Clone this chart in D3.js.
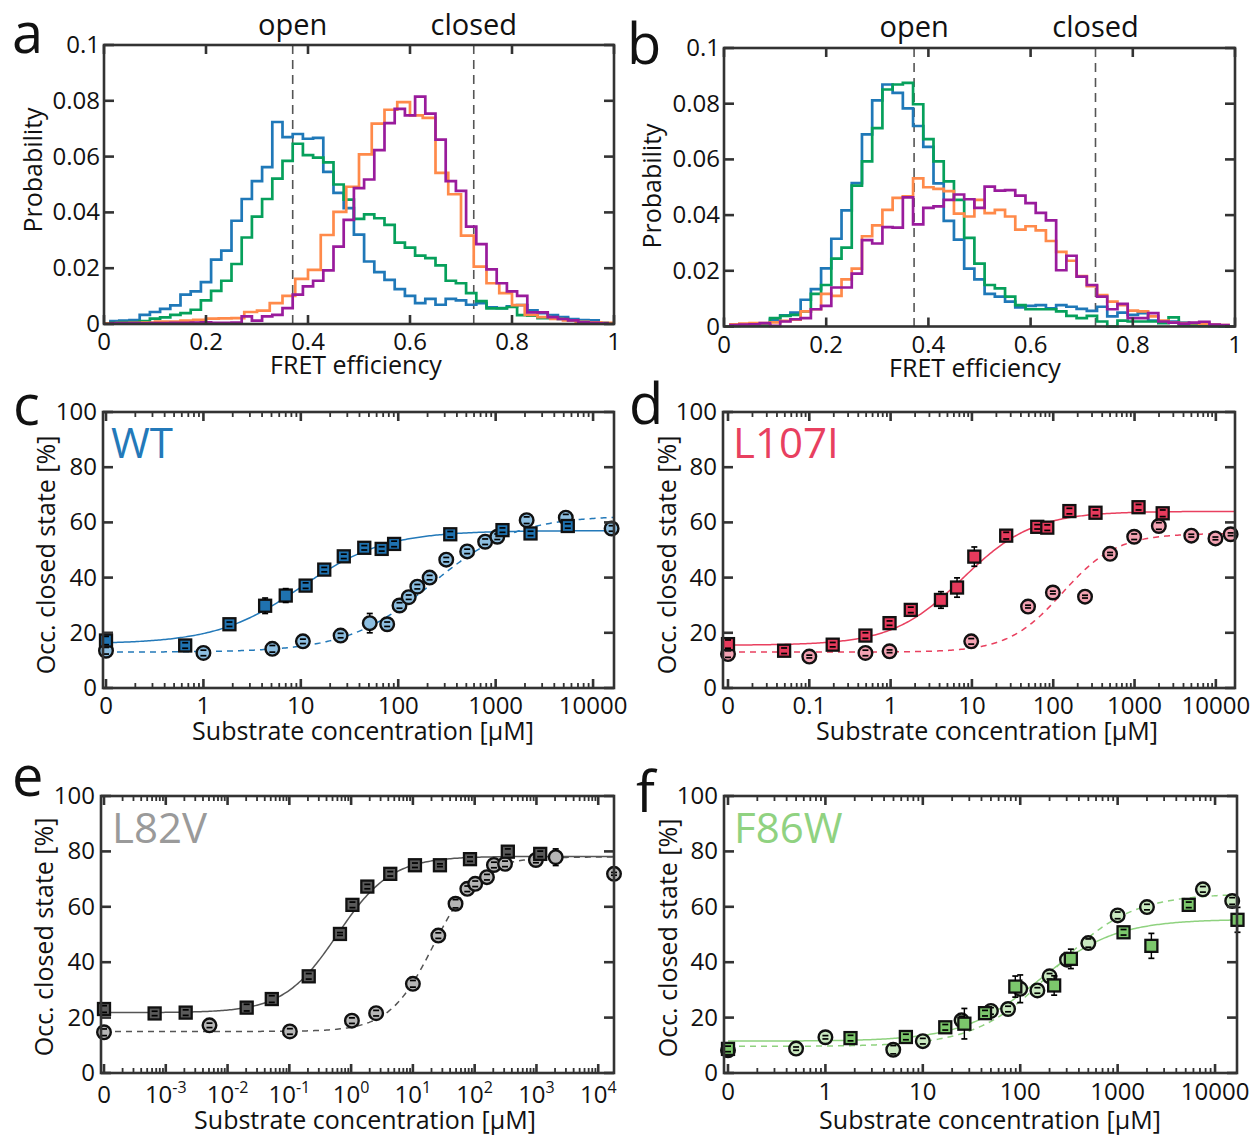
<!DOCTYPE html>
<html>
<head>
<meta charset="utf-8">
<script src="https://cdn.jsdelivr.net/npm/d3@7"></script>
<style>
  body { margin: 0; background: #fff; }
  svg { display: block; }
  text { font-family: "Open Sans", "Noto Sans", sans-serif; }
</style>
</head>
<body>
<svg></svg>
<script>
const width = 1260;
const height = 1136;

// ---- panel a / b : FRET histograms (0.02 wide bins, centres 0.02 ... 0.98) ----
const aBlue = [0.001,0.0012,0.0014,0.0033,0.0043,0.0054,0.0067,0.0105,0.0117,0.015,0.0231,0.0263,0.037,0.0448,0.0512,0.0562,0.0724,0.067,0.0681,0.0664,0.0667,0.0545,0.047,0.0415,0.032,0.0224,0.0186,0.0158,0.0125,0.0101,0.0075,0.009,0.0069,0.009,0.0085,0.0069,0.0075,0.006,0.0057,0.0063,0.0068,0.0049,0.0039,0.0032,0.0025,0.0018,0.0014,0.0013,0.0004];
const aGreen = [0.0005,0.0007,0.0007,0.001,0.0019,0.0024,0.0033,0.0039,0.0051,0.0085,0.0119,0.0155,0.0215,0.031,0.0385,0.0448,0.0521,0.0585,0.0646,0.0605,0.0596,0.0579,0.05,0.0446,0.0377,0.0393,0.0379,0.0355,0.0292,0.0274,0.0245,0.0236,0.021,0.0155,0.0146,0.0111,0.0082,0.0056,0.0056,0.0061,0.0032,0.003,0.0021,0.0021,0.0018,0.0013,0.0006,0.0006,0.0001];
// orange in panel a uses 0.025 wide bins (0 ... 1)
const aOrange = [0.0002,0.0003,0.0004,0.0005,0.0009,0.0009,0.0012,0.0015,0.0019,0.002,0.0021,0.0043,0.0048,0.0075,0.0101,0.0162,0.0194,0.0319,0.0402,0.0492,0.0608,0.0718,0.0768,0.0795,0.0748,0.0739,0.0542,0.0465,0.0317,0.0206,0.0146,0.0111,0.0068,0.0033,0.0025,0.0018,0.0013,0.0008,0.0006,0.0004];
const aPurple = [0.0003,0.0003,0.0003,0.0002,0.0003,0.0003,0.0004,0.0004,0.0005,0.0006,0.0004,0.0004,0.0005,0.0027,0.0012,0.0027,0.0033,0.0057,0.0105,0.0135,0.0155,0.0192,0.0277,0.0373,0.0487,0.0518,0.0623,0.072,0.0771,0.0748,0.0815,0.0754,0.0661,0.0512,0.0477,0.0349,0.0286,0.0196,0.0146,0.0117,0.0101,0.0042,0.0042,0.0025,0.0018,0.0013,0.0006,0.0004,0.0002];

const bBlue = [0.0003,0.0004,0.0006,0.001,0.0025,0.004,0.005,0.0096,0.0134,0.0209,0.0315,0.0417,0.0515,0.069,0.0812,0.0869,0.0839,0.0783,0.072,0.0645,0.0514,0.0379,0.0312,0.0208,0.0169,0.0117,0.0107,0.0089,0.0069,0.0074,0.0077,0.0065,0.0077,0.0071,0.0063,0.0056,0.0071,0.0036,0.005,0.0042,0.0048,0.0021,0.0014,0.0018,0.0014,0.001,0.0007,0.0005,0.0002];
const bGreen = [0.0002,0.0003,0.0005,0.0007,0.003,0.0038,0.0042,0.0054,0.0117,0.0149,0.0244,0.0283,0.0506,0.0593,0.0712,0.0851,0.0869,0.0875,0.0798,0.0673,0.0593,0.0521,0.0455,0.0318,0.0226,0.0149,0.0137,0.0107,0.0077,0.0062,0.0062,0.0062,0.0054,0.0038,0.003,0.0038,0.0018,0,0.0021,0.0018,0.0018,0.0018,0.0012,0.0033,0.0006,0.0005,0.0002,0.0001,0];
const bOrange = [0.0008,0.001,0.0012,0.0012,0.0015,0.002,0.0025,0.0054,0.0062,0.0117,0.011,0.0169,0.0208,0.0324,0.0363,0.0419,0.0462,0.0467,0.0532,0.05,0.0494,0.0486,0.0405,0.0395,0.0455,0.0407,0.0419,0.0395,0.0348,0.036,0.0345,0.0307,0.0268,0.0236,0.0181,0.0145,0.0113,0.0089,0.0077,0.0057,0.0054,0.0036,0.0021,0.0014,0.0012,0.0012,0.001,0.0007,0.0005];
const bPurple = [0.0005,0.0007,0.0008,0.0012,0.0002,0.0018,0.0026,0.003,0.0062,0.0074,0.014,0.014,0.019,0.031,0.0298,0.0357,0.0355,0.0464,0.0367,0.0426,0.0431,0.0455,0.0474,0.0457,0.0426,0.0502,0.0488,0.049,0.047,0.0443,0.0408,0.0381,0.0202,0.0254,0.0179,0.0149,0.0107,0.0062,0.0081,0.003,0.003,0.0048,0.0018,0.0014,0.001,0.0014,0.0017,0.0007,0.0005];

const fretTicks = [0, 0.2, 0.4, 0.6, 0.8, 1];
const fretTickLabels = ["0", "0.2", "0.4", "0.6", "0.8", "1"];
const probTicks = [0, 0.02, 0.04, 0.06, 0.08, 0.1];
const probTickLabels = ["0", "0.02", "0.04", "0.06", "0.08", "0.1"];
const stateLinesA = [0.37, 0.725];
const stateLinesB = [0.372, 0.727];
const stateNames = ["open", "closed"];

// ---- panels c-f : titration, concentration in µM (0 = no substrate) ----
const cSqX = [0, 0.65, 1.85, 4.3, 7.0, 11.2, 17.4, 27.6, 44.8, 67.6, 90.7, 342, 1175, 2280, 5500];
const cSqY = [17.2, 15.4, 23.1, 29.8, 33.5, 37.1, 42.9, 47.7, 50.8, 50.4, 52.2, 55.7, 57.2, 56.0, 58.7];
const cSqErr = [1.5, 1, 0.8, 2.8, 2.5, 1, 0.8, 0.8, 0.8, 0.8, 1, 1, 0.8, 0.8, 0.8];
const cCiX = [0, 1, 5.1, 10.5, 25.6, 51, 77, 103, 128, 157, 210, 311, 510, 780, 1040, 2080, 5250, 15500];
const cCiY = [13.5, 12.7, 14.2, 16.9, 19.0, 23.5, 23.1, 29.9, 32.9, 36.7, 40.0, 46.5, 49.5, 53.0, 54.8, 60.8, 61.7, 57.8];
const cCiErr = [1.2, 1, 1.2, 0.8, 0.8, 3.5, 0.8, 1, 0.8, 0.8, 0.8, 0.8, 0.8, 1, 1, 1.2, 1.2, 1];
const cFitSq = [16, 57, 10, 1];      // bottom, top, EC50, Hill
const cFitCi = [13, 62.5, 220, 1];

const dSqX = [0, 0.049, 0.194, 0.49, 0.97, 1.77, 4.16, 6.56, 10.7, 26.4, 63.6, 84.5, 158, 331, 1120, 2220];
const dSqY = [15.9, 13.5, 15.7, 19.0, 23.5, 28.3, 31.9, 36.4, 47.6, 55.2, 58.4, 58.1, 64.1, 63.5, 65.5, 63.3];
const dSqErr = [1.5, 1, 0.8, 1, 0.8, 1, 3, 3.5, 3.5, 1.2, 0.8, 1, 1, 1, 1, 1.2];
const dCiX = [0, 0.1, 0.49, 0.97, 9.8, 49, 99, 246, 500, 990, 1990, 4990, 9880, 15200];
const dCiY = [12.3, 11.4, 12.7, 13.3, 16.9, 29.5, 34.6, 33.1, 48.6, 54.8, 58.7, 55.2, 54.2, 55.7];
const dCiErr = [1.2, 0.5, 1, 0.5, 1, 0.5, 0.5, 0.5, 0.5, 1, 1.2, 0.5, 0.5, 0.5];
const dFitSq = [15.5, 64, 7.7, 1];
const dFitCi = [13, 56, 130, 1.3];

const eSqX = [0, 0.00066, 0.0021, 0.0204, 0.052, 0.206, 0.66, 1.05, 1.83, 4.3, 10.8, 27.4, 84, 344, 1150];
const eSqY = [23.1, 21.5, 21.8, 23.6, 26.7, 34.9, 50.2, 60.7, 67.3, 71.9, 75.0, 75.0, 77.2, 79.9, 79.1];
const eSqErr = [1.2, 0.8, 1, 1.2, 1.2, 1, 0.5, 1, 0.8, 0.8, 0.8, 0.5, 0.8, 1, 1];
const eCiX = [0, 0.0051, 0.102, 1.03, 2.54, 10, 25.8, 49, 76, 102, 158, 205, 310, 980, 2050, 18000];
const eCiY = [14.7, 17.2, 15.0, 18.9, 21.6, 32.2, 49.6, 61.1, 66.5, 68.3, 70.7, 75.1, 75.5, 76.9, 77.9, 71.9];
const eCiErr = [1.2, 0.8, 1, 1, 1, 1.2, 1, 1.5, 1, 1, 1, 1, 1, 1, 3, 0.5];
const eFitSq = [21.8, 78.2, 0.6, 1];
const eFitCi = [15, 78, 22, 1.2];

const fSqX = [0, 1.81, 6.7, 17, 26.7, 43.5, 89, 223, 331, 1150, 2220, 5370, 17000];
const fSqY = [8.7, 12.6, 13.0, 16.5, 17.8, 21.6, 31.2, 31.6, 41.2, 50.8, 45.9, 60.7, 55.3];
const fSqErr = [1, 1, 1, 1, 5.5, 1, 3.8, 3.5, 3.5, 1, 4.5, 1, 4.5];
const fCiX = [0, 0.5, 1.0, 4.97, 10, 25, 50, 75, 100, 150, 200, 302, 500, 1000, 2000, 7500, 15000];
const fCiY = [8.2, 8.8, 12.9, 8.4, 11.5, 19.0, 22.4, 23.1, 30.4, 29.8, 34.9, 40.9, 46.9, 56.9, 59.9, 66.3, 62.1];
const fCiErr = [1.2, 0.6, 0.6, 1.5, 1, 1.5, 1.2, 1, 5, 1, 1, 1, 1.5, 1.2, 1, 1, 1.2];
const fFitSq = [11.5, 55.5, 155, 1.1];
const fFitCi = [9.6, 64.8, 220, 1.1];

const occTicks = [0, 20, 40, 60, 80, 100];
const cTicks = [0.1, 1, 10, 100, 1000, 10000];
const cTickLabels = ["0", "1", "10", "100", "1000", "10000"];
const dTicks = [0.01, 0.1, 1, 10, 100, 1000, 10000];
const dTickLabels = ["0", "0.1", "1", "10", "100", "1000", "10000"];
const eTicks = [1e-4, 1e-3, 1e-2, 1e-1, 1, 10, 100, 1000, 10000];
const eTickExp = [null, "-3", "-2", "-1", "0", "1", "2", "3", "4"];

const AXIS = "#333";
const INK = "#111";
const TICK_FONT = 24;
const TITLE_FONT = 25;
const CIRCLE_R = 6.8;
const SQUARE = 12;

const svg = d3.select("svg")
  .attr("width", width)
  .attr("height", height);

function addText(x, y, s, size, anchor, fill) {
  return svg.append("text")
    .attr("x", x)
    .attr("y", y)
    .attr("font-size", size)
    .attr("text-anchor", anchor || "start")
    .attr("fill", fill || INK)
    .text(s);
}

function addRotText(x, y, s, size) {
  return svg.append("text")
    .attr("transform", `translate(${x},${y}) rotate(-90)`)
    .attr("font-size", size)
    .attr("text-anchor", "middle")
    .attr("fill", INK)
    .text(s);
}

function drawFrame(g, b) {
  g.append("rect")
    .attr("x", b.left).attr("y", b.top)
    .attr("width", b.right - b.left).attr("height", b.bottom - b.top)
    .attr("fill", "none").attr("stroke", AXIS).attr("stroke-width", 2.6);
}

function yTicksInside(g, b, y, ticks, len) {
  ticks.forEach(function(t) {
    [[b.left, b.left + len], [b.right, b.right - len]].forEach(function(p) {
      g.append("line")
        .attr("x1", p[0]).attr("x2", p[1])
        .attr("y1", y(t)).attr("y2", y(t))
        .attr("stroke", AXIS).attr("stroke-width", 2.6);
    });
  });
}

function xTickInside(g, b, px, len, w) {
  g.append("line").attr("x1", px).attr("x2", px)
    .attr("y1", b.bottom).attr("y2", b.bottom - len)
    .attr("stroke", AXIS).attr("stroke-width", w);
  g.append("line").attr("x1", px).attr("x2", px)
    .attr("y1", b.top).attr("y2", b.top + len)
    .attr("stroke", AXIS).attr("stroke-width", w);
}

// ---------- histogram panels ----------
function histPanel(b, series, lines, labels) {
  const g = svg.append("g");
  const x = d3.scaleLinear().domain([0, 1]).range([b.left, b.right]);
  const y = d3.scaleLinear().domain([0, 0.1]).range([b.bottom, b.top]);

  lines.forEach(function(v) {
    g.append("line")
      .attr("x1", x(v)).attr("x2", x(v))
      .attr("y1", b.top).attr("y2", b.bottom)
      .attr("stroke", "#555").attr("stroke-width", 1.6)
      .attr("stroke-dasharray", "9,6");
  });

  const line = d3.line()
    .x(function(d) { return x(d[0]); })
    .y(function(d) { return y(d[1]); })
    .curve(d3.curveStepAfter);

  series.forEach(function(s) {
    const pts = s.values.map(function(v, i) { return [s.start + i * s.width, v]; });
    pts.push([s.start + s.values.length * s.width, s.values[s.values.length - 1]]);
    g.append("path")
      .attr("d", line(pts))
      .attr("fill", "none")
      .attr("stroke", s.color)
      .attr("stroke-width", 2.7)
      .attr("stroke-linejoin", "miter");
  });

  drawFrame(g, b);
  yTicksInside(g, b, y, probTicks, 10);
  fretTicks.forEach(function(t) { xTickInside(g, b, x(t), 9, 2.6); });

  probTicks.forEach(function(t, i) {
    addText(b.left - 4, y(t) + 8, probTickLabels[i], TICK_FONT, "end");
  });
  fretTicks.forEach(function(t, i) {
    addText(x(t), b.bottom + 26, fretTickLabels[i], TICK_FONT, "middle");
  });
  lines.forEach(function(v, i) {
    addText(x(v), labels.stateY, stateNames[i], 29, "middle");
  });
  addText(labels.titleX, b.bottom + 50, "FRET efficiency", TITLE_FONT, "middle");
  addRotText(labels.probX, labels.probY, "Probability", TITLE_FONT);
}

const blue = "#1f78b8", green = "#06a05b", orange = "#ff8a4a", purple = "#991b9c";

histPanel({ left: 104, right: 614, top: 45, bottom: 324 }, [
  { values: aBlue, start: 0.01, width: 0.02, color: blue },
  { values: aGreen, start: 0.01, width: 0.02, color: green },
  { values: aOrange, start: 0, width: 0.025, color: orange },
  { values: aPurple, start: 0.01, width: 0.02, color: purple }
], stateLinesA, { stateY: 35, titleX: 356, probX: 42, probY: 170 });

histPanel({ left: 724, right: 1235, top: 48, bottom: 326.5 }, [
  { values: bBlue, start: 0.01, width: 0.02, color: blue },
  { values: bGreen, start: 0.01, width: 0.02, color: green },
  { values: bOrange, start: 0.01, width: 0.02, color: orange },
  { values: bPurple, start: 0.01, width: 0.02, color: purple }
], stateLinesB, { stateY: 37, titleX: 975, probX: 661, probY: 186 });

// ---------- titration panels ----------
function hill(p, c) {
  return p[0] + (p[1] - p[0]) / (1 + Math.pow(p[2] / c, p[3]));
}

function dosePanel(b, o) {
  const g = svg.append("g");
  const x = d3.scaleLog().domain([o.zeroAt, o.xMax]).range([b.left + o.pad, b.right]);
  const y = d3.scaleLinear().domain([0, 100]).range([b.bottom, b.top]);
  const xPos = function(v) { return x(v === 0 ? o.zeroAt : v); };

  // fitted curves, sampled evenly along the drawn log axis
  const grid = d3.range(0, 301).map(function(i) {
    return x.invert(x(o.zeroAt) + (x(o.xMax) - x(o.zeroAt)) * i / 300);
  });
  const curve = d3.line()
    .x(function(c) { return x(c); });
  g.append("path")
    .attr("d", curve.y(function(c) { return y(hill(o.fitCi, c)); })(grid))
    .attr("fill", "none").attr("stroke", o.curveColor).attr("stroke-width", 1.5)
    .attr("stroke-dasharray", "6,5");
  g.append("path")
    .attr("d", curve.y(function(c) { return y(hill(o.fitSq, c)); })(grid))
    .attr("fill", "none").attr("stroke", o.curveColor).attr("stroke-width", 1.5);

  // error bars: caps always, stem only where it sticks out of the marker
  function errBars(xs, ys, es, half) {
    xs.forEach(function(v, i) {
      const px = xPos(v);
      const cy = y(ys[i]);
      const yLow = y(ys[i] - es[i]);
      const yHigh = y(ys[i] + es[i]);
      if (yHigh < cy - half) {
        g.append("line").attr("x1", px).attr("x2", px).attr("y1", yHigh).attr("y2", cy - half)
          .attr("stroke", "#000").attr("stroke-width", 1.4);
        g.append("line").attr("x1", px).attr("x2", px).attr("y1", cy + half).attr("y2", yLow)
          .attr("stroke", "#000").attr("stroke-width", 1.4);
      }
      [yLow, yHigh].forEach(function(yy) {
        g.append("line").attr("x1", px - 3).attr("x2", px + 3).attr("y1", yy).attr("y2", yy)
          .attr("stroke", "#000").attr("stroke-width", 1.7);
      });
    });
  }

  // circles
  o.ciX.forEach(function(v, i) {
    g.append("circle")
      .attr("cx", xPos(v)).attr("cy", y(o.ciY[i])).attr("r", CIRCLE_R)
      .attr("fill", o.ciFill).attr("stroke", "#111").attr("stroke-width", 2.4);
  });
  errBars(o.ciX, o.ciY, o.ciErr, CIRCLE_R);
  // squares
  o.sqX.forEach(function(v, i) {
    g.append("rect")
      .attr("x", xPos(v) - SQUARE / 2).attr("y", y(o.sqY[i]) - SQUARE / 2)
      .attr("width", SQUARE).attr("height", SQUARE)
      .attr("fill", o.sqFill).attr("stroke", "#111").attr("stroke-width", 2.3);
  });
  errBars(o.sqX, o.sqY, o.sqErr, SQUARE / 2);

  drawFrame(g, b);
  yTicksInside(g, b, y, occTicks, 10);

  // log ticks: majors at decades, minors 2..9
  let dec = o.zeroAt;
  while (dec <= o.xMax * 1.0001) {
    xTickInside(g, b, x(dec), 9, 2.6);
    for (let k = 2; k <= 9; k++) {
      const v = dec * k;
      if (v <= o.xMax) xTickInside(g, b, x(v), 5, 1.8);
    }
    dec = dec * 10;
  }

  occTicks.forEach(function(t) {
    addText(b.left - 6, y(t) + 8, String(t), TICK_FONT, "end");
  });
  if (o.tickExp) {
    o.ticks.forEach(function(t, i) {
      const tx = svg.append("text")
        .attr("x", x(t)).attr("y", o.tickY)
        .attr("font-size", TICK_FONT).attr("text-anchor", "middle").attr("fill", INK);
      if (o.tickExp[i] === null) {
        tx.text("0");
      } else {
        tx.append("tspan").text("10");
        tx.append("tspan").attr("font-size", 16).attr("dy", -10).text(o.tickExp[i]);
      }
    });
  } else {
    o.ticks.forEach(function(t, i) {
      addText(x(t), o.tickY, o.tickLabels[i], TICK_FONT, "middle");
    });
  }
  addText(o.titleX, o.titleY, "Substrate concentration [µM]", TITLE_FONT, "middle");
  addRotText(o.occX, o.occY, "Occ. closed state [%]", TITLE_FONT);
  addText(o.nameX, o.nameY, o.name, 42, "start", o.nameColor);
}

dosePanel({ left: 103, right: 614, top: 412, bottom: 688 }, {
  zeroAt: 0.1, xMax: 16400, pad: 3,
  sqX: cSqX, sqY: cSqY, sqErr: cSqErr, ciX: cCiX, ciY: cCiY, ciErr: cCiErr,
  fitSq: cFitSq, fitCi: cFitCi,
  curveColor: "#2379b9", sqFill: "#1f72b0", ciFill: "#8dbee0",
  ticks: cTicks, tickLabels: cTickLabels, tickY: 714,
  titleX: 363, titleY: 740, occX: 55, occY: 555,
  name: "WT", nameX: 111, nameY: 458, nameColor: "#2379b9"
});

dosePanel({ left: 723, right: 1235, top: 412, bottom: 688 }, {
  zeroAt: 0.01, xMax: 17200, pad: 5,
  sqX: dSqX, sqY: dSqY, sqErr: dSqErr, ciX: dCiX, ciY: dCiY, ciErr: dCiErr,
  fitSq: dFitSq, fitCi: dFitCi,
  curveColor: "#e9405f", sqFill: "#e73a5c", ciFill: "#f3a3b3",
  ticks: dTicks, tickLabels: dTickLabels, tickY: 714,
  titleX: 987, titleY: 740, occX: 676, occY: 555,
  name: "L107I", nameX: 733, nameY: 458, nameColor: "#e8405f"
});

dosePanel({ left: 101, right: 614, top: 796, bottom: 1073 }, {
  zeroAt: 1e-4, xMax: 18000, pad: 3,
  sqX: eSqX, sqY: eSqY, sqErr: eSqErr, ciX: eCiX, ciY: eCiY, ciErr: eCiErr,
  fitSq: eFitSq, fitCi: eFitCi,
  curveColor: "#555", sqFill: "#5a5a5a", ciFill: "#b6b6b6",
  ticks: eTicks, tickExp: eTickExp, tickY: 1103,
  titleX: 365, titleY: 1129, occX: 53, occY: 937,
  name: "L82V", nameX: 112, nameY: 843, nameColor: "#9a9a9a"
});

dosePanel({ left: 724, right: 1237, top: 796, bottom: 1073 }, {
  zeroAt: 0.1, xMax: 16800, pad: 4,
  sqX: fSqX, sqY: fSqY, sqErr: fSqErr, ciX: fCiX, ciY: fCiY, ciErr: fCiErr,
  fitSq: fFitSq, fitCi: fFitCi,
  curveColor: "#8fd27f", sqFill: "#7cc76c", ciFill: "#cae9c1",
  ticks: cTicks, tickLabels: cTickLabels, tickY: 1100,
  titleX: 990, titleY: 1129, occX: 677, occY: 938,
  name: "F86W", nameX: 734, nameY: 843, nameColor: "#90d281"
});

// panel letters
addText(12, 53, "a", 56);
addText(627, 64, "b", 56);
addText(13, 425, "c", 56);
addText(629, 424, "d", 56);
addText(12, 796, "e", 56);
addText(636, 812, "f", 56);
</script>
</body>
</html>
